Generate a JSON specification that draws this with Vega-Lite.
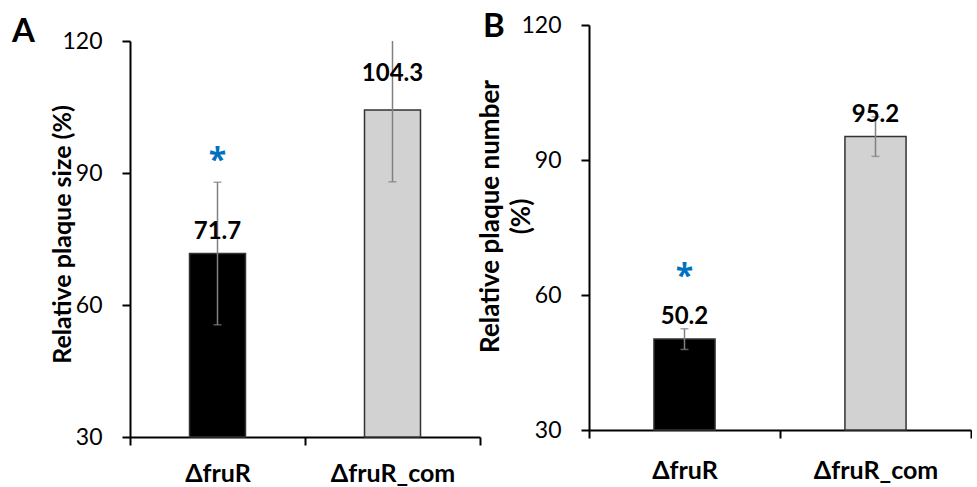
{
  "$schema": "https://vega.github.io/schema/vega-lite/v6.json",
  "background": "white",
  "padding": {"left": 12, "top": 11, "right": 0, "bottom": 0},
  "bounds": "flush",
  "spacing": 109,
  "config": {
    "view": {"stroke": null},
    "font": "Lato",
    "axis": {"labelFont": "Lato", "titleFont": "Lato", "labelColor": "black", "titleColor": "black"}
  },
  "hconcat": [
    {
      "width": 350,
      "height": 412,
      "data": {"values": [
        {"strain": "ΔfruR", "value": 71.7, "lo": 55.5, "hi": 87.9, "label": "71.7"},
        {"strain": "ΔfruR_com", "value": 104.3, "lo": 88.0, "hi": 120.6, "label": "104.3"}
      ]},
      "title": {"text": "A", "anchor": "start", "frame": "group", "fontSize": 33, "fontWeight": "bold", "font": "Lato", "color": "black", "baseline": "alphabetic", "offset": 0, "dx": -118, "dy": 50},
      "encoding": {
        "x": {"field": "strain", "type": "nominal", "sort": null,
          "scale": {"paddingInner": 0, "paddingOuter": 0},
          "axis": {"title": null, "labelAngle": 0, "labelFontSize": 25, "labelFontWeight": "bold", "labelPadding": 16, "tickBand": "extent", "tickSize": 8, "tickWidth": 2, "tickColor": "black", "domainColor": "black", "domainWidth": 2}}
      },
      "layer": [
        {
          "mark": {"type": "bar", "width": {"band": 0.32}, "stroke": "#333333", "strokeWidth": 1.5},
          "encoding": {
            "y": {"field": "value", "type": "quantitative",
              "scale": {"domain": [30, 120], "range": [412, 16], "clamp": true, "zero": false},
              "axis": {"values": [30, 60, 90, 120], "title": "Relative plaque size (%)", "grid": false, "domainColor": "black", "domainWidth": 2, "tickColor": "black", "tickWidth": 2, "tickSize": 8, "labelFontSize": 23, "labelPadding": 20, "titleFontSize": 25, "titleFontWeight": "bold", "titleX": -68, "titleY": 209, "titleBaseline": "middle"}},
            "y2": {"datum": 30},
            "fill": {"field": "strain", "type": "nominal", "sort": null, "scale": {"range": ["#000000", "#d2d2d2"]}, "legend": null}
          }
        },
        {
          "mark": {"type": "rule", "color": "#808080", "strokeWidth": 1.5},
          "encoding": {"y": {"field": "lo", "type": "quantitative"}, "y2": {"field": "hi"}}
        },
        {
          "mark": {"type": "tick", "color": "#808080", "size": 8, "thickness": 1.5},
          "encoding": {"y": {"field": "lo", "type": "quantitative"}}
        },
        {
          "transform": [{"filter": "datum.hi <= 120"}],
          "mark": {"type": "tick", "color": "#808080", "size": 8, "thickness": 1.5},
          "encoding": {"y": {"field": "hi", "type": "quantitative"}}
        },
        {
          "transform": [{"filter": "datum.strain == 'ΔfruR'"}],
          "mark": {"type": "text", "fontSize": 24, "fontWeight": "bold", "color": "black", "baseline": "alphabetic", "dy": -15},
          "encoding": {"y": {"field": "value", "type": "quantitative"}, "text": {"field": "label"}}
        },
        {
          "transform": [{"filter": "datum.strain == 'ΔfruR_com'"}],
          "mark": {"type": "text", "fontSize": 24, "fontWeight": "bold", "color": "black", "baseline": "alphabetic", "dy": -29},
          "encoding": {"y": {"field": "value", "type": "quantitative"}, "text": {"field": "label"}}
        },
        {
          "transform": [{"filter": "datum.strain == 'ΔfruR'"}],
          "mark": {"type": "text", "text": "*", "font": "Open Sans", "fontSize": 32, "fontWeight": "bold", "color": "#0070C0", "baseline": "alphabetic", "dy": -11},
          "encoding": {"y": {"field": "hi", "type": "quantitative"}}
        }
      ]
    },
    {
      "width": 382,
      "height": 405,
      "data": {"values": [
        {"strain": "ΔfruR", "value": 50.2, "lo": 47.9, "hi": 52.5, "label": "50.2"},
        {"strain": "ΔfruR_com", "value": 95.2, "lo": 90.8, "hi": 99.6, "label": "95.2"}
      ]},
      "title": {"text": "B", "anchor": "start", "frame": "group", "fontSize": 33, "fontWeight": "bold", "font": "Lato", "color": "black", "baseline": "alphabetic", "offset": 0, "dx": -106, "dy": 56},
      "encoding": {
        "x": {"field": "strain", "type": "nominal", "sort": null,
          "scale": {"paddingInner": 0, "paddingOuter": 0},
          "axis": {"title": null, "labelAngle": 0, "labelFontSize": 25, "labelFontWeight": "bold", "labelPadding": 20, "tickBand": "extent", "tickSize": 8, "tickWidth": 2, "tickColor": "black", "domainColor": "black", "domainWidth": 2}}
      },
      "layer": [
        {
          "mark": {"type": "bar", "width": {"band": 0.32}, "stroke": "#333333", "strokeWidth": 1.5},
          "encoding": {
            "y": {"field": "value", "type": "quantitative",
              "scale": {"domain": [30, 120], "zero": false},
              "axis": {"values": [30, 60, 90, 120], "title": ["Relative plaque number", "(%)"], "grid": false, "domainColor": "black", "domainWidth": 2, "tickColor": "black", "tickWidth": 2, "tickSize": 8, "labelFontSize": 23, "labelPadding": 20, "titleFontSize": 26, "titleFontWeight": "bold", "titleLineHeight": 31, "titleX": -99, "titleY": 191, "titleBaseline": "middle"}},
            "y2": {"datum": 30},
            "fill": {"field": "strain", "type": "nominal", "sort": null, "scale": {"range": ["#000000", "#a3a3a3"]}, "legend": null}
          }
        },
        {
          "mark": {"type": "rule", "color": "#808080", "strokeWidth": 1.5},
          "encoding": {"y": {"field": "lo", "type": "quantitative"}, "y2": {"field": "hi"}}
        },
        {
          "mark": {"type": "tick", "color": "#808080", "size": 8, "thickness": 1.5},
          "encoding": {"y": {"field": "lo", "type": "quantitative"}}
        },
        {
          "mark": {"type": "tick", "color": "#808080", "size": 8, "thickness": 1.5},
          "encoding": {"y": {"field": "hi", "type": "quantitative"}}
        },
        {
          "mark": {"type": "text", "fontSize": 24, "fontWeight": "bold", "color": "black", "baseline": "alphabetic", "dy": -15},
          "encoding": {"y": {"field": "value", "type": "quantitative"}, "text": {"field": "label"}}
        },
        {
          "transform": [{"filter": "datum.strain == 'ΔfruR'"}],
          "mark": {"type": "text", "text": "*", "font": "Open Sans", "fontSize": 32, "fontWeight": "bold", "color": "#0070C0", "baseline": "alphabetic", "dy": -42},
          "encoding": {"y": {"field": "hi", "type": "quantitative"}}
        }
      ]
    }
  ]
}
